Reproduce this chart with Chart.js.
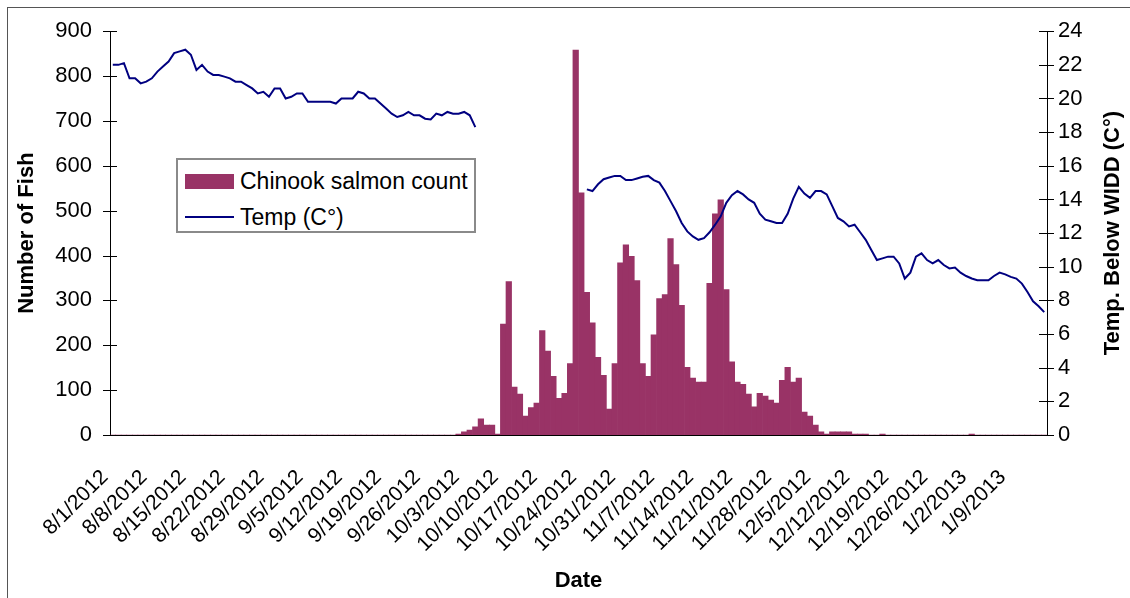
<!DOCTYPE html>
<html>
<head>
<meta charset="utf-8">
<title>Chinook salmon count and temperature</title>
<script src="https://cdn.jsdelivr.net/npm/chart.js@4.4.1/dist/chart.umd.min.js"></script>
<style>
  html, body { margin:0; padding:0; background:#fff; overflow:hidden; }
  #wrap { position:relative; width:1130px; height:598px; }
  #frame { position:absolute; left:7px; top:7px; width:1300px; height:800px; border:1px solid #555; }
  #chart { position:absolute; left:0; top:0; }
  #legend { position:absolute; left:176px; top:158px; width:300px; height:75px; box-sizing:border-box;
            border:2px solid #8a8a8a; background:#fff; font:23px "Liberation Sans", Arial, sans-serif; color:#000; }
  .item { position:absolute; left:7px; height:30px; display:flex; align-items:center; white-space:nowrap; }
  .sw { width:49px; margin-right:6px; }
</style>
</head>
<body>
<div id="wrap">
  <div id="frame"></div>
  <canvas id="chart" width="1130" height="598"></canvas>
  <div id="legend"></div>
</div>
<script>
'use strict';

// ===== data =====
// one category per day, 8/1/2012 .. 1/15/2013
const START_DAY = new Date(2012, 7, 1);
const DAY_COUNT = 168;
const DAYS = [];
for (let i = 0; i < DAY_COUNT; i++) {
  const d = new Date(START_DAY.getFullYear(), START_DAY.getMonth(), START_DAY.getDate() + i);
  DAYS.push((d.getMonth() + 1) + '/' + d.getDate() + '/' + d.getFullYear());
}

// weekly labels shown under the axis
const TICK_LABELS = [
  "8/1/2012","8/8/2012","8/15/2012","8/22/2012","8/29/2012","9/5/2012","9/12/2012",
  "9/19/2012","9/26/2012","10/3/2012","10/10/2012","10/17/2012","10/24/2012","10/31/2012",
  "11/7/2012","11/14/2012","11/21/2012","11/28/2012","12/5/2012","12/12/2012","12/19/2012",
  "12/26/2012","1/2/2013","1/9/2013"
];

// Chinook salmon count per day (two weeks per row)
const SALMON_COUNT = [
  0,0,0,0,0,0,0,0,0,0,0,0,0,0,
  0,0,0,0,0,0,0,0,0,0,0,0,0,0,
  0,0,0,0,0,0,0,0,0,0,0,0,0,0,
  0,0,0,0,0,0,0,0,0,0,0,0,0,0,
  0,0,0,0,0,0,2,7,11,18,36,22,22,2,
  247,342,107,91,42,61,71,233,187,131,82,93,159,858,
  540,318,250,173,133,58,159,384,424,398,344,159,131,223,
  304,313,438,380,289,151,127,118,118,338,493,524,324,163,
  118,113,91,63,93,87,78,71,122,151,118,127,51,42,
  22,7,2,7,7,7,7,2,2,2,0,0,2,0,
  0,0,0,0,0,0,0,0,0,0,0,0,0,0,
  2,0,0,0,0,0,0,0,0,0,0,0,0,0
];

// temperature below WIDD (C), null = no reading
const TEMP_C = [
  22.0,22.0,22.1,21.2,21.2,20.9,21.0,21.2,21.6,21.9,22.2,22.7,22.8,22.9,
  22.6,21.7,22.0,21.6,21.4,21.4,21.3,21.2,21.0,21.0,20.8,20.6,20.3,20.4,
  20.1,20.6,20.6,20.0,20.1,20.3,20.3,19.8,19.8,19.8,19.8,19.8,19.7,20.0,
  20.0,20.0,20.4,20.3,20.0,20.0,19.7,19.4,19.1,18.9,19.0,19.2,19.0,19.0,
  18.8,18.75,19.1,19.0,19.2,19.1,19.1,19.2,19.0,18.3,null,null,null,null,
  null,null,null,null,null,null,null,null,null,null,null,null,null,null,
  null,14.6,14.5,14.9,15.2,15.3,15.4,15.4,15.15,15.15,15.25,15.35,15.4,15.15,
  15.0,14.5,13.9,13.3,12.6,12.1,11.8,11.6,11.7,12.05,12.5,13.0,13.8,14.25,
  14.5,14.3,14.0,13.8,13.15,12.8,12.7,12.6,12.6,13.15,14.05,14.75,14.35,14.1,
  14.5,14.5,14.3,13.6,12.9,12.7,12.4,12.5,12.05,11.6,11.0,10.4,10.5,10.6,
  10.6,10.2,9.3,9.65,10.6,10.8,10.4,10.2,10.4,10.1,9.9,9.95,9.65,9.45,
  9.3,9.2,9.2,9.2,9.45,9.65,9.55,9.4,9.3,9.0,8.5,7.95,7.65,7.3
];

const BAR_LABEL = "Chinook salmon count";
const LINE_LABEL = "Temp (C°)";
const LEFT_TITLE = "Number of Fish";
const RIGHT_TITLE = "Temp. Below WIDD (C°)";
const X_TITLE = "Date";

const BAR_COLOR = "#993366";
const LINE_COLOR = "#000080";
const FONT = '"Liberation Sans", Arial, sans-serif';

// ===== plot area box (px) =====
const PLOT_LEFT = 110, PLOT_RIGHT = 1047, PLOT_TOP = 30, PLOT_BOTTOM = 435;
const W = 1130, H = 598;

// ticks crossing the axes + right title reading bottom-up
const axisExtras = {
  id: 'axisExtras',
  afterDraw(chart){
    const { ctx, chartArea } = chart;
    const y = chart.scales.y, y1 = chart.scales.y1;
    ctx.save();
    ctx.strokeStyle = '#000';
    ctx.lineWidth = 1;
    ctx.beginPath();
    y.ticks.forEach(t => {
      const py = Math.round(y.getPixelForValue(t.value)) + 0.5;
      ctx.moveTo(chartArea.left - 7, py);
      ctx.lineTo(chartArea.left + 7, py);
    });
    y1.ticks.forEach(t => {
      const py = Math.round(y1.getPixelForValue(t.value)) + 0.5;
      ctx.moveTo(chartArea.right - 8, py);
      ctx.lineTo(chartArea.right + 7, py);
    });
    ctx.stroke();

    ctx.translate(1113, (chartArea.top + chartArea.bottom) / 2);
    ctx.rotate(-Math.PI / 2);
    ctx.fillStyle = '#000';
    ctx.font = 'bold 22px ' + FONT;
    ctx.textAlign = 'center';
    ctx.textBaseline = 'middle';
    ctx.fillText(RIGHT_TITLE, 0, 0);
    ctx.restore();
  }
};

const chart = new Chart(document.getElementById('chart'), {
  data: {
    labels: DAYS,
    datasets: [
      {
        type: 'line',
        label: LINE_LABEL,
        data: TEMP_C,
        yAxisID: 'y1',
        borderColor: LINE_COLOR,
        borderWidth: 2,
        pointRadius: 0,
        tension: 0,
        spanGaps: false,
        order: 0
      },
      {
        type: 'bar',
        label: BAR_LABEL,
        data: SALMON_COUNT,
        yAxisID: 'y',
        backgroundColor: BAR_COLOR,
        borderWidth: 0,
        barPercentage: 1,
        categoryPercentage: 1,
        order: 1
      }
    ]
  },
  options: {
    responsive: false,
    animation: false,
    devicePixelRatio: 1,
    layout: { padding: { left: 10, right: 0, top: PLOT_TOP, bottom: 0 } },
    plugins: { legend: { display: false }, tooltip: { enabled: false } },
    scales: {
      x: {
        type: 'category',
        offset: true,
        grid: { display: false, drawTicks: false },
        border: { display: true, color: '#000', width: 1 },
        ticks: {
          autoSkip: false,
          minRotation: 45,
          maxRotation: 45,
          padding: 30,
          labelOffset: -8,
          color: '#000',
          font: { family: FONT, size: 21 },
          callback(value){
            const s = this.getLabelForValue(value);
            return TICK_LABELS.includes(s) ? s : '';
          }
        },
        title: { display: true, text: X_TITLE, color: '#000', padding: 4,
                 font: { family: FONT, size: 22, weight: 'bold' } },
        afterFit(scale){ scale.height = H - PLOT_BOTTOM; }
      },
      y: {
        position: 'left',
        min: 0, max: 900,
        grid: { display: false, drawTicks: false },
        border: { display: true, color: '#000', width: 1 },
        ticks: { stepSize: 100, padding: 18, color: '#000', font: { family: FONT, size: 22 } },
        title: { display: true, text: LEFT_TITLE, color: '#000', padding: 4,
                 font: { family: FONT, size: 22, weight: 'bold' } },
        afterFit(scale){ scale.width = PLOT_LEFT - 10; }
      },
      y1: {
        position: 'right',
        min: 0, max: 24,
        grid: { display: false, drawTicks: false },
        border: { display: true, color: '#000', width: 1 },
        ticks: { stepSize: 2, padding: 11, color: '#000', font: { family: FONT, size: 22 } },
        afterFit(scale){ scale.width = W - PLOT_RIGHT; }
      }
    }
  },
  plugins: [axisExtras]
});

// ===== legend (html) =====
function buildLegend(){
  const el = document.getElementById('legend');
  const bar = chart.data.datasets[1], line = chart.data.datasets[0];
  el.innerHTML =
    '<div class="item" style="top:6px"><span class="sw" style="height:15px;background:' + bar.backgroundColor + '"></span>' + bar.label + '</div>' +
    '<div class="item" style="top:42px"><span class="sw" style="height:2px;background:' + line.borderColor + '"></span>' + line.label + '</div>';
}
buildLegend();
</script>
</body>
</html>
